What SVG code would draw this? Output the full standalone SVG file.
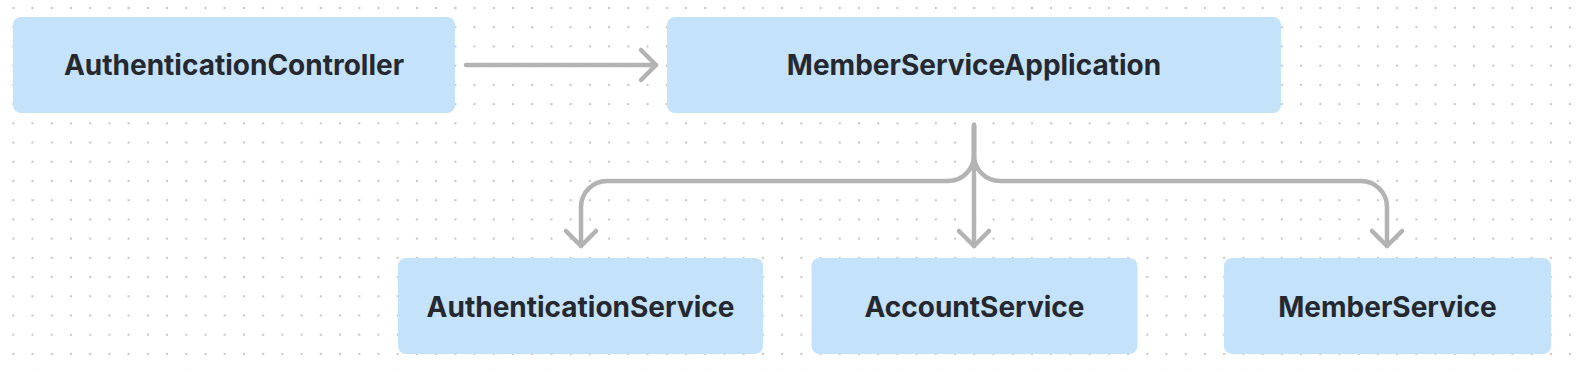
<svg xmlns="http://www.w3.org/2000/svg" width="1584" height="372" viewBox="0 0 1584 372">
  <defs>
    <pattern id="dots" patternUnits="userSpaceOnUse" x="3.69" y="-1.61" width="19.22" height="19.22">
      <circle cx="9.61" cy="9.61" r="1.2" fill="#c8c8c8"/>
    </pattern>
    <marker id="chev" markerUnits="userSpaceOnUse" viewBox="-20 -20 40 40" markerWidth="40" markerHeight="40" refX="0" refY="0" orient="auto">
      <path d="M-15,-15 L0,0 L-15,15" fill="none" stroke="#b3b3b3" stroke-width="4.5" stroke-linecap="round" stroke-linejoin="round"/>
    </marker>
    <style>
      .node rect { fill: #c5e2fb; }
      .node text { font-family: Inter, "Noto Sans", sans-serif; font-weight: 700; font-size: 28px; fill: #25292f; text-anchor: middle; }
      .edge { fill: none; stroke: #b3b3b3; stroke-width: 4.5; stroke-linecap: round; stroke-linejoin: round; }
    </style>
  </defs>
  <rect width="1584" height="372" fill="#ffffff"/>
  <rect width="1584" height="372" fill="url(#dots)"/>

  <g id="connectors">
    <path class="edge" d="M466,65 H656" marker-end="url(#chev)"/>
    <path class="edge" d="M974,125 V246" marker-end="url(#chev)"/>
    <path class="edge" d="M974,125 V155 A26,26 0 0 1 948,181 H607 A26,26 0 0 0 581,207 V246" marker-end="url(#chev)"/>
    <path class="edge" d="M974,125 V155 A26,26 0 0 0 1000,181 H1361 A26,26 0 0 1 1387,207 V246" marker-end="url(#chev)"/>
  </g>

  <g id="AuthenticationController" class="node">
    <rect x="13" y="17" width="442" height="96" rx="8"/>
    <text x="234" y="74.5">AuthenticationController</text>
  </g>
  <g id="MemberServiceApplication" class="node">
    <rect x="667" y="17" width="614" height="96" rx="8"/>
    <text x="974" y="74.5">MemberServiceApplication</text>
  </g>
  <g id="AuthenticationService" class="node">
    <rect x="398" y="258" width="365" height="96" rx="8"/>
    <text x="580.5" y="317">AuthenticationService</text>
  </g>
  <g id="AccountService" class="node">
    <rect x="811.5" y="258" width="326" height="96" rx="8"/>
    <text x="974.5" y="317">AccountService</text>
  </g>
  <g id="MemberService" class="node">
    <rect x="1224" y="258" width="327" height="96" rx="8"/>
    <text x="1387.5" y="317">MemberService</text>
  </g>
</svg>
